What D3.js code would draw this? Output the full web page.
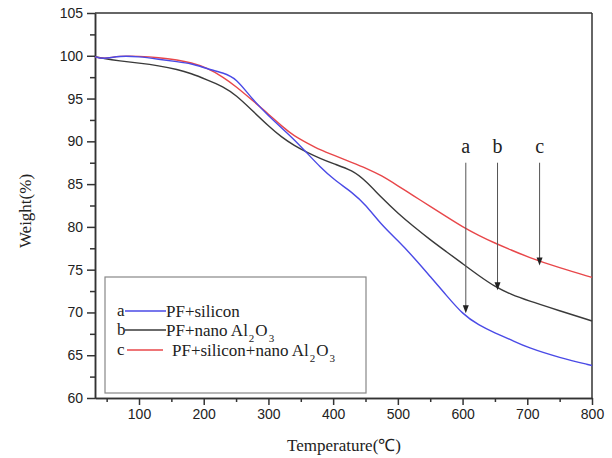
<!DOCTYPE html>
<html>
<head>
<meta charset="utf-8">
<script src="https://cdn.jsdelivr.net/npm/d3@7"></script>
<style>
  body { margin: 0; background: #fff; }
  svg { display: block; }
</style>
</head>
<body>
<svg id="chart" width="612" height="458"></svg>
<script>
// TGA curves
var temps   = [32, 44, 70, 100, 130, 160, 180, 205, 230, 250, 275, 300, 320, 340, 360, 380, 400, 430, 450, 475, 500, 525, 550, 575, 600, 625, 650, 675, 700, 750, 800];
var weightA = [99.9, 99.6, 100.0, 99.9, 99.6, 99.3, 99.1, 98.5, 98.0, 97.4, 94.9, 93.0, 91.6, 90.2, 88.6, 87.0, 85.6, 84.0, 82.6, 80.2, 78.4, 76.4, 74.2, 72.0, 69.8, 68.5, 67.6, 66.8, 65.9, 64.7, 63.8];
var weightB = [99.9, 99.7, 99.4, 99.15, 98.85, 98.4, 97.95, 97.2, 96.4, 95.4, 93.6, 91.8, 90.5, 89.5, 88.7, 88.0, 87.4, 86.6, 85.4, 83.4, 81.6, 80.0, 78.5, 77.1, 75.7, 74.3, 73.0, 72.1, 71.4, 70.2, 69.0];
var weightC = [99.9, 99.6, 100.0, 99.95, 99.8, 99.5, 99.2, 98.6, 97.5, 96.4, 94.8, 93.2, 91.8, 90.6, 89.8, 89.0, 88.4, 87.5, 86.9, 86.0, 84.8, 83.6, 82.4, 81.2, 80.0, 79.0, 78.1, 77.3, 76.5, 75.2, 74.1];

var seriesKeys   = ["a", "b", "c"];
var seriesColors = ["#4a4ae6", "#3a3a3a", "#e8474a"];

var xTicks = [100, 200, 300, 400, 500, 600, 700, 800];
var yTicks = [60, 65, 70, 75, 80, 85, 90, 95, 100, 105];

// arrows pointing at the curves
var arrowTemps = [605, 654, 719];
var arrowEnds  = [69.9, 72.6, 75.5];
var arrowTop   = 87.5;

var svg = d3.select("#chart");
var plotLeft = 95, plotRight = 592, plotTop = 13, plotBottom = 398;

var x = d3.scaleLinear().domain([32, 800]).range([plotLeft, plotRight]);
var y = d3.scaleLinear().domain([60, 105]).range([plotBottom, plotTop]);

var axisColor = "#333";
var sans = "'Liberation Sans', Arial, sans-serif";
var serif = "'Liberation Serif', 'Times New Roman', serif";

// minor ticks
var xMinor = d3.range(50, 801, 50).filter(function(t) { return t % 100 !== 0; });
var yMinor = d3.range(62.5, 105, 5);

var xAxis = d3.axisBottom(x).tickValues(xTicks).tickSize(7).tickSizeOuter(0).tickPadding(4);
var xAxisMinor = d3.axisBottom(x).tickValues(xMinor).tickSize(4).tickSizeOuter(0).tickFormat("");
var yAxis = d3.axisLeft(y).tickValues(yTicks).tickSize(8).tickSizeOuter(0).tickPadding(4);
var yAxisMinor = d3.axisLeft(y).tickValues(yMinor).tickSize(5).tickSizeOuter(0).tickFormat("");

function styleAxis(g) {
  g.selectAll("path, line").attr("stroke", axisColor).attr("stroke-width", 1.5);
  g.selectAll("text").attr("fill", "#222").style("font-family", sans).style("font-size", "14px");
}

svg.append("g").attr("transform", "translate(0," + plotBottom + ")").call(xAxisMinor).call(styleAxis);
svg.append("g").attr("transform", "translate(0," + plotBottom + ")").call(xAxis).call(styleAxis);
svg.append("g").attr("transform", "translate(" + plotLeft + ",0)").call(yAxisMinor).call(styleAxis);
svg.append("g").attr("transform", "translate(" + plotLeft + ",0)").call(yAxis).call(styleAxis);

// top and right frame
svg.append("line").attr("x1", plotLeft).attr("x2", plotRight).attr("y1", plotTop).attr("y2", plotTop)
  .attr("stroke", axisColor).attr("stroke-width", 1.5);
svg.append("line").attr("x1", plotRight).attr("x2", plotRight).attr("y1", plotTop).attr("y2", plotBottom)
  .attr("stroke", axisColor).attr("stroke-width", 1.5);

// curves
var line = d3.line()
  .x(function(d) { return x(d[0]); })
  .y(function(d) { return y(d[1]); })
  .curve(d3.curveBasis);

var allSeries = [weightA, weightB, weightC];
[1, 2, 0].forEach(function(idx) {
  svg.append("path")
    .datum(d3.zip(temps, allSeries[idx]))
    .attr("d", line)
    .attr("fill", "none")
    .attr("stroke", seriesColors[idx])
    .attr("stroke-width", 1.4);
});

// arrows
arrowTemps.forEach(function(t, i) {
  var ax = x(t), ay = y(arrowEnds[i]);
  svg.append("line")
    .attr("x1", ax).attr("x2", ax)
    .attr("y1", y(arrowTop)).attr("y2", ay - 7)
    .attr("stroke", "#555").attr("stroke-width", 1);
  svg.append("path")
    .attr("d", "M" + (ax - 3) + "," + (ay - 8) + " L" + (ax + 3) + "," + (ay - 8) + " L" + ax + "," + ay + " Z")
    .attr("fill", "#222");
  svg.append("text")
    .attr("x", ax).attr("y", y(arrowTop) - 10)
    .attr("text-anchor", "middle")
    .style("font-family", serif).style("font-size", "20px")
    .attr("fill", "#222")
    .text(seriesKeys[i]);
});

// axis titles
svg.append("text")
  .attr("x", 344).attr("y", 451)
  .attr("text-anchor", "middle")
  .style("font-family", serif).style("font-size", "17px").attr("fill", "#222")
  .text("Temperature(℃)");

svg.append("text")
  .attr("transform", "translate(31,211) rotate(-90)")
  .attr("text-anchor", "middle")
  .style("font-family", serif).style("font-size", "17px").attr("fill", "#222")
  .text("Weight(%)");

// legend
var legend = svg.append("g");
legend.append("rect")
  .attr("x", 105).attr("y", 277).attr("width", 261).attr("height", 116)
  .attr("fill", "#fff").attr("stroke", "#888").attr("stroke-width", 1.2);

var legendRows = [
  { key: "a", lineY: 311, lx1: 125, lx2: 166, tx: 166, parts: [["PF+silicon", null]] },
  { key: "b", lineY: 330, lx1: 125, lx2: 166, tx: 166, parts: [["PF+nano Al", null], ["2", "sub"], ["O", null], ["3", "sub"]] },
  { key: "c", lineY: 350, lx1: 127, lx2: 163, tx: 172, parts: [["PF+silicon+nano Al", null], ["2", "sub"], ["O", null], ["3", "sub"]] }
];

legendRows.forEach(function(r, i) {
  legend.append("text")
    .attr("x", 117).attr("y", r.lineY + 5)
    .style("font-family", serif).style("font-size", "17px").attr("fill", "#222")
    .text(r.key);
  legend.append("line")
    .attr("x1", r.lx1).attr("x2", r.lx2).attr("y1", r.lineY).attr("y2", r.lineY)
    .attr("stroke", seriesColors[i]).attr("stroke-width", 1.4);
  var t = legend.append("text")
    .attr("x", r.tx).attr("y", r.lineY + 6)
    .style("font-family", serif).style("font-size", "17px").attr("fill", "#222");
  r.parts.forEach(function(p, j) {
    var ts = t.append("tspan").text(p[0]);
    if (p[1] === "sub") {
      ts.attr("dy", 6).attr("dx", 1).style("font-size", "11px");
    } else if (j > 0) {
      ts.attr("dy", -6).attr("dx", 1);
    }
  });
});
</script>
</body>
</html>
